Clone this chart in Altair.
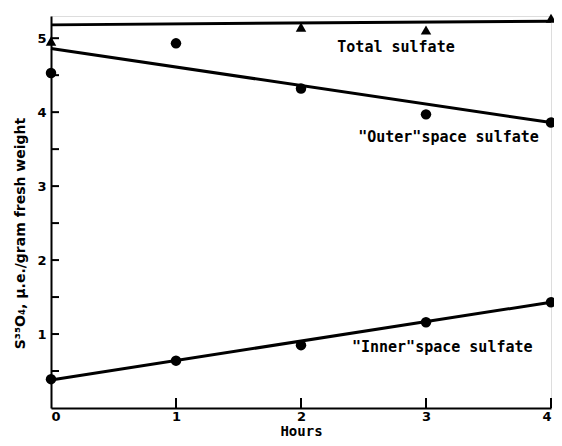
import altair as alt
import pandas as pd

# ---- data ----
hours = [0, 1, 2, 3, 4]
total_hours = [0, 2, 3, 4]
total_pts = [4.96, 5.15, 5.11, 5.27]
outer_pts = [4.53, 4.93, 4.32, 3.97, 3.86]
inner_pts = [0.39, 0.64, 0.85, 1.16, 1.43]

# fitted lines (values at 0 h and 4 h)
line_hours = [0, 4]
total_line = [5.18, 5.23]
outer_line = [4.86, 3.86]
inner_line = [0.38, 1.43]

label_texts = ["Total sulfate", '"Outer"space sulfate', '"Inner"space sulfate']
label_x = [2.76, 3.18, 3.13]
label_y = [4.88, 3.67, 0.82]

y_ticks = [0.5, 1, 1.5, 2, 2.5, 3, 3.5, 4, 4.5, 5]
x_ticks = [1, 2, 3, 4]

W, H = 500, 392
FONT = "DejaVu Sans"
LFONT = "DejaVu Sans Mono"

pts = pd.DataFrame(
    [{"h": h, "v": v} for h, v in zip(hours, outer_pts)]
    + [{"h": h, "v": v} for h, v in zip(hours, inner_pts)]
)
tri = pd.DataFrame({"h": total_hours, "v": total_pts})
lines = pd.DataFrame(
    [{"h": h, "v": v, "g": "total"} for h, v in zip(line_hours, total_line)]
    + [{"h": h, "v": v, "g": "outer"} for h, v in zip(line_hours, outer_line)]
    + [{"h": h, "v": v, "g": "inner"} for h, v in zip(line_hours, inner_line)]
)
labels = pd.DataFrame({"t": label_texts, "h": label_x, "v": label_y})
yt = pd.DataFrame({"v": y_ticks})
xt = pd.DataFrame({"h": x_ticks})

xs = alt.Scale(domain=[0, 4], nice=False)
ys = alt.Scale(domain=[0, 5.3], nice=False)

xaxis = alt.Axis(values=[0, 1, 2, 3, 4], format="d", tickSize=0, grid=False,
                 title="Hours",
                 labelFont=FONT, labelFontWeight="bold", labelFontSize=13,
                 labelPadding=2, titleFont=LFONT, titleFontWeight="bold",
                 titleFontSize=14, titleY=27, titleBaseline="alphabetic",
                 domainColor="black", domainWidth=2, labelColor="black",
                 titleColor="black")
yaxis = alt.Axis(values=[1, 2, 3, 4, 5], format="d", tickSize=0, grid=False,
                 title="S³⁵O₄, μ.e./gram fresh weight",
                 labelFont=FONT, labelFontWeight="bold", labelFontSize=13,
                 labelPadding=5, titleFont=FONT, titleFontWeight="bold",
                 titleFontSize=14, titleX=-31, titleY=217,
                 titleBaseline="middle",
                 domainColor="black", domainWidth=2, labelColor="black",
                 titleColor="black")

base_lines = alt.Chart(lines).mark_line(color="black", strokeWidth=3).encode(
    x=alt.X("h:Q", scale=xs, axis=xaxis),
    y=alt.Y("v:Q", scale=ys, axis=yaxis),
    detail="g:N",
)
circles = alt.Chart(pts).mark_point(shape="circle", filled=True, color="black",
                                    size=110, opacity=1).encode(
    x=alt.X("h:Q", scale=xs), y=alt.Y("v:Q", scale=ys))
triangles = alt.Chart(tri).mark_point(shape="triangle-up", filled=True,
                                      color="black", size=110, opacity=1).encode(
    x=alt.X("h:Q", scale=xs), y=alt.Y("v:Q", scale=ys))
texts = alt.Chart(labels).mark_text(font=LFONT, fontWeight="bold", fontSize=15,
                                    color="black").encode(
    x=alt.X("h:Q", scale=xs), y=alt.Y("v:Q", scale=ys), text="t:N")
ytick_rules = alt.Chart(yt).mark_rule(color="black", strokeWidth=2).encode(
    x=alt.value(0), x2=alt.value(8), y=alt.Y("v:Q", scale=ys))
xtick_rules = alt.Chart(xt).mark_rule(color="black", strokeWidth=2).encode(
    x=alt.X("h:Q", scale=xs), y=alt.value(H), y2=alt.value(H - 10))

chart = alt.layer(base_lines, ytick_rules, xtick_rules, circles, triangles, texts).properties(
    width=W, height=H,
    autosize=alt.AutoSizeParams(type="none"),
    padding={"left": 43, "top": 8, "right": 3, "bottom": 30},
).configure_view(stroke=None).configure(background="white")

chart.save("out.html", embed_options={"renderer": "svg", "actions": False})
